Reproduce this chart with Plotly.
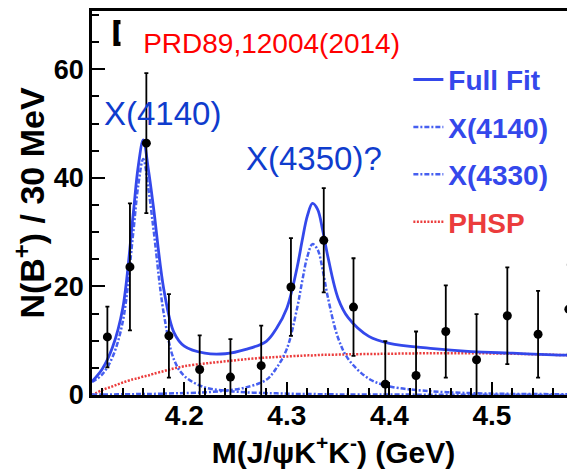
import plotly.graph_objects as go

# ---- data points (bin centre in GeV, events per 30 MeV, symmetric error) ----
mass = [4.125, 4.147, 4.163, 4.185, 4.215, 4.245, 4.275, 4.304, 4.336, 4.365,
        4.396, 4.426, 4.455, 4.485, 4.515, 4.545, 4.575]
counts = [10.7, 23.6, 46.4, 10.9, 4.7, 3.3, 5.4, 19.9, 28.5, 16.2,
          2.0, 3.6, 11.7, 6.5, 14.6, 11.2, 15.8]
errors = [5.6, 11.7, 12.9, 7.7, 6.3, 7.0, 7.4, 9.0, 9.6, 9.0,
          7.9, 8.1, 8.5, 8.4, 8.9, 8.0, 8.2]

# ---- fit curves ----
curve_mass = [4.110, 4.120, 4.130, 4.140, 4.150, 4.155, 4.160, 4.165, 4.170, 4.180,
              4.190, 4.200, 4.220, 4.240, 4.260, 4.280, 4.290, 4.300, 4.310, 4.315,
              4.320, 4.325, 4.330, 4.335, 4.340, 4.350, 4.360, 4.380, 4.400, 4.440,
              4.480, 4.520, 4.560, 4.581]
full_fit = [2.5, 4.8, 8.8, 16.0, 33.0, 42.0, 47.0, 41.5, 34.5, 19.5,
            11.5, 9.0, 7.7, 7.6, 8.4, 9.9, 12.3, 16.0, 23.5, 28.5,
            33.0, 35.3, 34.2, 30.3, 25.5, 17.8, 14.2, 10.8, 9.5, 8.6,
            8.0, 7.7, 7.4, 7.3]
x4140 = [2.4, 3.8, 7.0, 13.5, 29.5, 38.5, 43.5, 38.0, 30.5, 15.0,
         6.5, 3.5, 1.4, 0.8, 0.5, 0.35, 0.3, 0.25, 0.2, 0.2,
         0.2, 0.2, 0.15, 0.15, 0.15, 0.1, 0.1, 0.1, 0.1, 0.05,
         0.05, 0.05, 0.0, 0.0]
x4330 = [0.1, 0.1, 0.1, 0.15, 0.15, 0.2, 0.2, 0.2, 0.2, 0.25,
         0.3, 0.35, 0.5, 0.8, 1.4, 2.8, 5.0, 8.5, 16.0, 21.0,
         25.5, 27.8, 26.8, 23.0, 18.0, 10.5, 6.6, 3.0, 1.6, 0.7,
         0.35, 0.2, 0.15, 0.1]
phsp = [0.0, 0.9, 1.6, 2.3, 2.9, 3.1, 3.4, 3.6, 3.9, 4.4,
        4.9, 5.3, 5.8, 6.2, 6.6, 6.9, 7.0, 7.1, 7.2, 7.25,
        7.3, 7.3, 7.35, 7.4, 7.4, 7.45, 7.5, 7.55, 7.6, 7.7,
        7.7, 7.6, 7.4, 7.3]

legend_names = ["Full Fit", "X(4140)", "X(4330)", "PHSP"]

BLUE = "rgb(52,72,235)"
BLUE_D = "rgb(70,95,240)"
RED = "rgb(235,60,60)"
FONT = "Liberation Sans, Arial, sans-serif"

fig = go.Figure()

fig.add_trace(go.Scatter(x=curve_mass, y=phsp, mode="lines",
                         name=f'<span style="color:{RED}">{legend_names[3]}</span>',
                         line=dict(color=RED, width=2.5, dash="2px,1.5px", shape="spline"),
                         legendgroup="d", legendrank=4))
fig.add_trace(go.Scatter(x=curve_mass, y=x4140, mode="lines", name=legend_names[1],
                         line=dict(color=BLUE_D, width=2.5, dash="5px,2px,2px,2px", shape="spline"),
                         legendgroup="b", legendrank=2))
fig.add_trace(go.Scatter(x=curve_mass, y=x4330, mode="lines", name=legend_names[2],
                         line=dict(color=BLUE_D, width=2.5, dash="5px,2px,2px,2px", shape="spline"),
                         legendgroup="c", legendrank=3))
fig.add_trace(go.Scatter(x=curve_mass, y=full_fit, mode="lines", name=legend_names[0],
                         line=dict(color=BLUE, width=2.8, shape="spline"),
                         legendgroup="a", legendrank=1))
fig.add_trace(go.Scatter(x=mass, y=counts, mode="markers", showlegend=False,
                         marker=dict(color="black", size=9),
                         error_y=dict(type="data", array=errors, color="black", thickness=1.8, width=2)))

# page has an 8px body margin, so the figure is sized/offset to compensate
fig.update_layout(
    width=567, height=465,
    margin=dict(l=84, r=0, t=0, b=78),
    plot_bgcolor="white", paper_bgcolor="white",
    font=dict(family=FONT, color="black"),
    legend=dict(x=0.655, y=0.886, xanchor="left", yanchor="top",
                bgcolor="rgba(0,0,0,0)", tracegroupgap=8, itemwidth=30,
                font=dict(family=FONT, size=28, color=BLUE, weight="bold")),
)

fig.update_xaxes(
    range=[4.110, 4.581], showgrid=False, zeroline=False,
    showline=True, linecolor="black", linewidth=2.5, mirror=True,
    ticks="inside", ticklen=13, tickwidth=2, tickcolor="black",
    tick0=4.2, dtick=0.1, tickformat=".1f", ticklabelstandoff=-6,
    minor=dict(dtick=0.02, ticks="inside", ticklen=7, tickwidth=1.5, tickcolor="black"),
    tickfont=dict(family=FONT, size=28, color="black", weight="bold"),
    title=dict(text="M(J/ψK<sup>+</sup>K<sup>-</sup>) (GeV)", standoff=0,
               font=dict(family=FONT, size=30, color="black", weight="bold")),
)
fig.update_yaxes(
    range=[0, 70.75], showgrid=False, zeroline=False,
    showline=True, linecolor="black", linewidth=2.5,
    ticks="inside", ticklen=13, tickwidth=2, tickcolor="black",
    tick0=0, dtick=20,
    minor=dict(dtick=5, ticks="inside", ticklen=7, tickwidth=1.5, tickcolor="black"),
    tickfont=dict(family=FONT, size=27, color="black", weight="bold"),
    title=dict(text="N(B<sup>+</sup>) / 30 MeV", standoff=4,
               font=dict(family=FONT, size=34, color="black", weight="bold")),
)

def px(xp):
    return (xp - 92) / 483.0

def py(yp):
    return (395 - yp) / 387.0

fig.add_annotation(x=px(109), y=py(31), xref="paper", yref="paper", xanchor="left", yanchor="middle",
                   text="D", showarrow=False, font=dict(family=FONT, size=36, color="black", weight="bold"))
fig.add_annotation(x=px(402), y=py(40), xref="paper", yref="paper", xanchor="right", yanchor="middle",
                   text="PRD89,12004(2014)", showarrow=False, width=278, height=46, align="right",
                   valign="middle", bgcolor="white",
                   font=dict(family=FONT, size=28, color="rgb(255,0,0)"))
fig.add_annotation(x=px(162), y=py(111), xref="paper", yref="paper", xanchor="center", yanchor="middle",
                   text="X(4140)", showarrow=False, font=dict(family=FONT, size=33, color="rgb(15,60,205)"))
fig.add_annotation(x=px(314), y=py(157), xref="paper", yref="paper", xanchor="center", yanchor="middle",
                   text="X(4350)?", showarrow=False, font=dict(family=FONT, size=33, color="rgb(15,60,205)"))

fig.write_html("out.html")
